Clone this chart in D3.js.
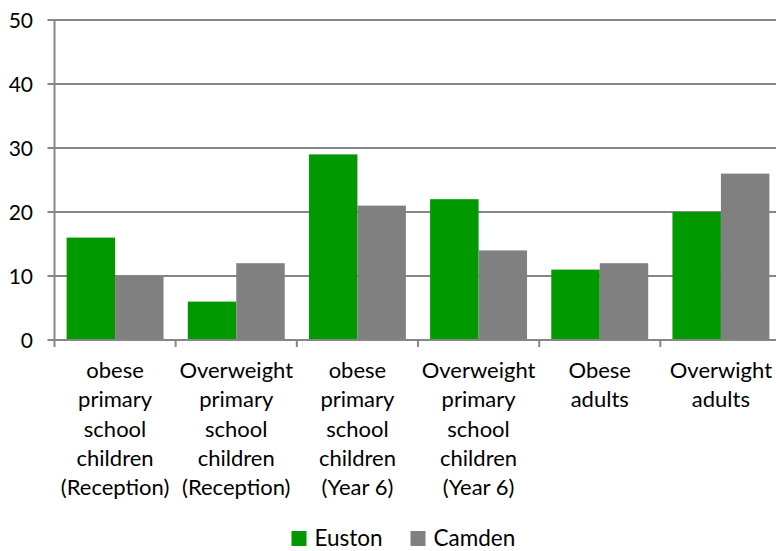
<!DOCTYPE html>
<html><head><meta charset="utf-8">
<script src="https://cdn.jsdelivr.net/npm/d3@7"></script>
<style>body{margin:0;background:#fff}svg{display:block}text{font-family:Lato,"Open Sans",sans-serif;fill:#000}</style>
</head><body><svg id="c" width="776" height="551"></svg>
<script>
const categories = [
  ["obese","primary","school","children","(Reception)"],
  ["Overweight","primary","school","children","(Reception)"],
  ["obese","primary","school","children","(Year 6)"],
  ["Overweight","primary","school","children","(Year 6)"],
  ["Obese","adults"],
  ["Overwight","adults"]
];
const seriesNames = ["Euston","Camden"];
const euston = [16,6,29,22,11,20];
const camden = [10,12,21,14,12,26];
const yTicks = [0,10,20,30,40,50];
const colors = ["#009900","#808080"];

const svg = d3.select("#c");
const L=54.5, R=781.5, T=20, B=340;
const bandStep = (R-L)/categories.length;
const xs = d3.scaleBand().domain(seriesNames).range([0, bandStep*0.8]);
const y = d3.scaleLinear().domain([0,50]).range([B,T]);
const grid="#868686";

// gridlines
svg.append("g").selectAll("line").data(yTicks).join("line")
  .attr("x1",L-7).attr("x2",R).attr("y1",d=>y(d)).attr("y2",d=>y(d))
  .attr("stroke",grid).attr("stroke-width",2);
// y labels
svg.append("g").selectAll("text").data(yTicks).join("text")
  .attr("x",33).attr("y",d=>y(d)).attr("dy","0.36em").attr("text-anchor","end")
  .attr("font-size",21).text(d=>d);
// bars
const data = seriesNames.map((s,i)=>({s, vals: i===0?euston:camden, c:colors[i]}));
const g = svg.append("g");
data.forEach(sr=>{
  g.selectAll(null).data(sr.vals).join("rect")
   .attr("x",(d,i)=>L+i*bandStep+bandStep*0.1+xs(sr.s))
   .attr("width",xs.bandwidth())
   .attr("y",d=>y(d)).attr("height",d=>B-y(d))
   .attr("fill",sr.c);
});
// axes lines
svg.append("line").attr("x1",L).attr("x2",L).attr("y1",T).attr("y2",B).attr("stroke",grid).attr("stroke-width",2);
svg.append("line").attr("x1",L).attr("x2",R).attr("y1",B).attr("y2",B).attr("stroke",grid).attr("stroke-width",2);
svg.append("g").selectAll("line").data(d3.range(categories.length+1)).join("line")
  .attr("x1",i=>L+i*bandStep).attr("x2",i=>L+i*bandStep).attr("y1",B).attr("y2",B+7)
  .attr("stroke",grid).attr("stroke-width",2);
// category labels
const cl = svg.append("g");
categories.forEach((lines,i)=>{
  const t = cl.append("text").attr("text-anchor","middle").attr("font-size",22);
  lines.forEach((ln,j)=>t.append("tspan").attr("x",L+i*bandStep+bandStep/2).attr("y",378+j*29.3).text(ln));
});
// legend
const leg = [{n:"Euston",x:291.5,c:colors[0]},{n:"Camden",x:410.5,c:colors[1]}];
leg.forEach(l=>{
  svg.append("rect").attr("x",l.x).attr("y",531).attr("width",15).attr("height",15).attr("fill",l.c);
  svg.append("text").attr("x",l.x+23).attr("y",545.5).attr("font-size",22.5).text(l.n);
});
</script></body></html>
